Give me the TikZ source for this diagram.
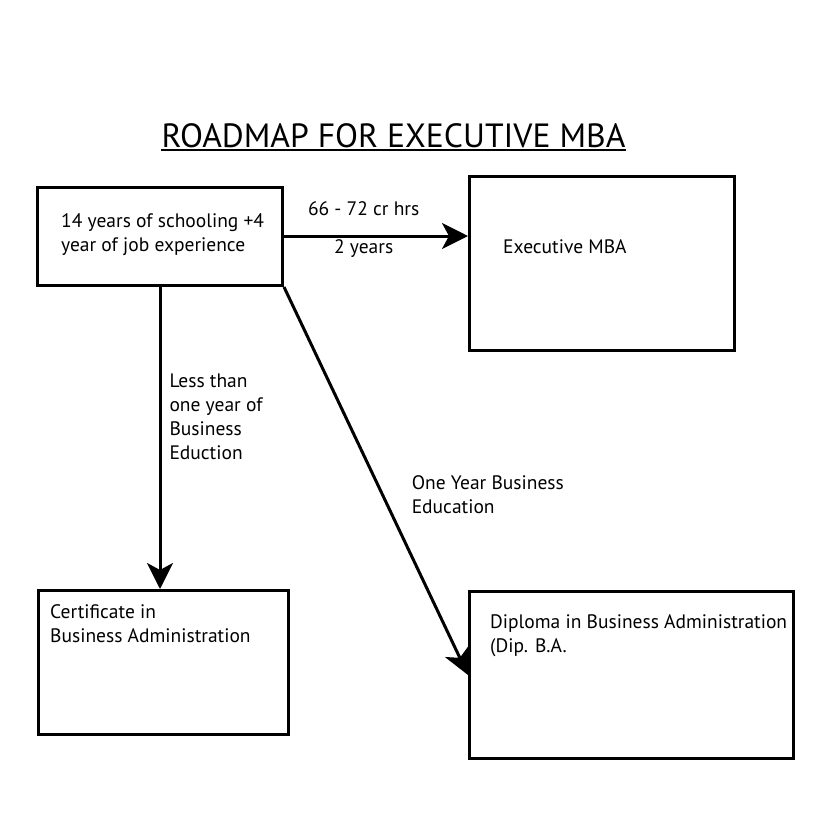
\documentclass[tikz,border=0pt]{standalone}
\usepackage{fontspec}
\setmainfont{PT Sans}
\usetikzlibrary{arrows.meta,positioning,calc}
\tikzset{
  box/.style={draw, line width=3pt, inner sep=0pt, anchor=north west},
  txt/.style={align=left, inner sep=0pt, anchor=base west, font=\fontsize{19.5}{24}\selectfont},
  link/.style={line width=3pt, -{Stealth[length=26pt,width=26pt,inset=7pt]}},
}

\begin{document}
\begin{tikzpicture}[x=1pt,y=-1pt]
  \useasboundingbox (0,0) rectangle (831,831);
  % title
  \node[inner sep=0pt, anchor=base, font=\fontsize{33.6}{40}\selectfont] (title) at (393.5,147) {ROADMAP FOR EXECUTIVE MBA};
  \draw[line width=2pt] ($(title.base west)+(0,3)$) -- ($(title.base east)+(0,3)$);
  % boxes
  \node[box, minimum width=245pt, minimum height=98pt] (school) at (36,186) {};
  \node[box, minimum width=265pt, minimum height=174pt] (emba) at (468,175) {};
  \node[box, minimum width=250pt, minimum height=144pt] (cert) at (37,589) {};
  \node[box, minimum width=324pt, minimum height=167pt] (dipl) at (468,590) {};
  % base of a multi-line node is its last line
  \node[txt] at ($(school.north west)+(25,65)$) {14 years of schooling +4\\year of job experience};
  \node[txt] at ($(emba.north west)+(35,78)$) {Executive MBA};
  \node[txt] at ($(cert.north west)+(13,53)$) {Certificate in\\Business Administration};
  \node[txt] at ($(dipl.north west)+(22,62)$) {Diploma in Business Administration\\(Dip. B.A.};
  % links
  \draw[link] (school.east |- 0,236) -- (emba.west |- 0,236)
    node[txt, pos=0.433, anchor=base, yshift=21pt] {66 - 72 cr hrs}
    node[txt, pos=0.433, anchor=base, yshift=-17pt] {2 years};
  \draw[link] (school.south -| 160,0) -- (cert.north -| 160,0)
    node[txt, pos=0.57, xshift=8pt] {Less than\\one year of\\Business\\Eduction};
  \draw[link] (school.south east) -- (dipl.west)
    node[txt, pos=0.583, xshift=19pt] {One Year Business\\Education};
\end{tikzpicture}
\end{document}
